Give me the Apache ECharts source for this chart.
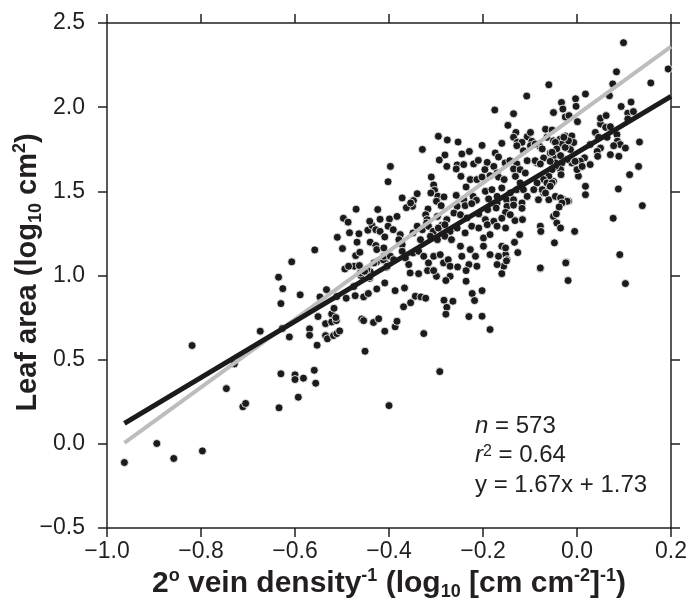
<!DOCTYPE html>
<html>
<head>
<meta charset="utf-8">
<script src="https://cdn.jsdelivr.net/npm/echarts@6/dist/echarts.min.js"></script>
<style>
  html, body { margin: 0; padding: 0; background: #fff; }
  #chart { width: 696px; height: 608px; }
</style>
</head>
<body>
<div id="chart"></div>
<script>
// values
const xRange = [-1.0, 0.2, 0.2];   // min, max, step
const yRange = [-0.5, 2.5, 0.5];

// fitted line y = 1.67x + 1.73 (black) and the grey line, end points
const blackLine = [[-0.963, 0.122], [0.2, 2.064]];
const greyLine = [[-0.963, 0.005], [0.2, 2.36]];

const statText = ['{i|n} = 573', '{i|r}{sup|2} = 0.64', 'y = 1.67x + 1.73'];

// [vein density^-1, leaf area]
const leafPoints = [
  [-0.963,-0.111],[-0.894,0.002],[-0.858,-0.087],[-0.797,-0.042],[-0.819,0.584],[-0.729,0.475],[-0.746,0.328],
  [-0.711,0.22],[-0.705,0.24],[-0.674,0.669],[-0.627,0.685],[-0.612,0.635],[-0.635,0.99],[-0.626,0.922],
  [-0.63,0.833],[-0.607,1.081],[-0.589,0.885],[-0.63,0.416],[-0.634,0.214],[-0.6,0.41],[-0.6,0.382],
  [-0.582,0.39],[-0.593,0.277],[-0.559,0.437],[-0.556,0.36],[-0.569,0.683],[-0.569,0.645],[-0.551,0.756],
  [-0.553,0.586],[-0.547,0.873],[-0.533,0.916],[-0.535,0.643],[-0.531,0.624],[-0.535,0.714],[-0.522,0.724],
  [-0.512,0.732],[-0.522,0.772],[-0.517,0.805],[-0.518,0.643],[-0.511,0.655],[-0.505,0.671],[-0.511,0.875],
  [-0.491,0.865],[-0.494,1.039],[-0.474,1.055],[-0.463,1.059],[-0.472,0.88],[-0.475,0.934],[-0.46,1.0],
  [-0.454,0.873],[-0.444,0.893],[-0.441,0.983],[-0.44,1.023],[-0.426,0.92],[-0.409,0.956],[-0.458,0.742],
  [-0.454,0.732],[-0.433,0.721],[-0.422,0.743],[-0.451,0.55],[-0.409,0.669],[-0.426,1.081],[-0.409,1.084],
  [-0.405,1.049],[-0.4,0.227],[-0.513,0.75],
  [-0.558,1.152],[-0.51,1.227],[-0.499,1.16],[-0.47,1.394],[-0.424,1.392],[-0.497,1.34],[-0.487,1.317],
  [-0.484,1.254],[-0.464,1.248],[-0.468,1.198],[-0.445,1.269],[-0.436,1.297],[-0.428,1.272],[-0.419,1.262],
  [-0.419,1.334],[-0.44,1.198],[-0.428,1.178],[-0.409,1.229],[-0.402,1.557],[-0.397,1.648],[-0.471,1.118],
  [-0.462,1.138],[-0.412,1.093],[-0.486,1.055],
  [-0.175,1.983],[-0.147,1.892],[-0.295,1.827],[-0.276,1.805],[-0.253,1.793],[-0.202,1.773],[-0.16,1.785],
  [-0.329,1.749],[-0.281,1.716],[-0.293,1.686],[-0.277,1.648],[-0.245,1.722],[-0.229,1.737],[-0.255,1.657],
  [-0.241,1.659],[-0.257,1.633],[-0.22,1.663],[-0.21,1.684],[-0.191,1.672],[-0.174,1.728],[-0.167,1.704],
  [-0.153,1.669],[-0.143,1.682],[-0.196,1.629],[-0.177,1.648],[-0.17,1.609],[-0.31,1.585],[-0.247,1.589],
  [-0.227,1.57],[-0.213,1.57],[-0.202,1.585],[-0.185,1.593],[-0.167,1.585],[-0.155,1.57],[-0.305,1.538],
  [-0.303,1.506],[-0.311,1.49],[-0.34,1.486],[-0.372,1.461],[-0.348,1.445],[-0.35,1.411],[-0.363,1.403],
  [-0.354,1.431],[-0.296,1.471],[-0.283,1.467],[-0.299,1.441],[-0.289,1.415],[-0.257,1.476],[-0.241,1.45],
  [-0.236,1.526],[-0.221,1.47],[-0.214,1.447],[-0.195,1.5],[-0.181,1.51],[-0.17,1.47],[-0.16,1.52],
  [-0.188,1.455],[-0.17,1.431],[-0.15,1.45],[-0.149,1.411],[-0.255,1.411],[-0.238,1.415],[-0.224,1.427],
  [-0.317,1.395],[-0.322,1.361],[-0.319,1.332],[-0.297,1.351],[-0.277,1.332],[-0.287,1.3],[-0.262,1.371],
  [-0.248,1.361],[-0.234,1.342],[-0.209,1.366],[-0.19,1.391],[-0.172,1.401],[-0.152,1.375],[-0.195,1.332],
  [-0.177,1.322],[-0.16,1.34],[-0.441,1.322],[-0.399,1.336],[-0.383,1.351],[-0.402,1.293],[-0.391,1.272],
  [-0.376,1.243],[-0.379,1.213],[-0.372,1.183],[-0.349,1.253],[-0.34,1.293],[-0.329,1.272],[-0.32,1.312],
  [-0.316,1.293],[-0.306,1.262],[-0.295,1.282],[-0.281,1.302],[-0.27,1.262],[-0.255,1.282],[-0.333,1.213],
  [-0.312,1.233],[-0.297,1.213],[-0.281,1.233],[-0.267,1.213],[-0.238,1.253],[-0.224,1.293],[-0.209,1.282],
  [-0.191,1.302],[-0.17,1.293],[-0.152,1.282],[-0.199,1.223],[-0.185,1.243],[-0.16,1.174],[-0.152,1.124],
  [-0.149,1.094],[-0.411,1.114],[-0.404,1.055],[-0.432,1.075],[-0.447,1.035],[-0.372,1.144],[-0.365,1.104],
  [-0.358,1.065],[-0.349,1.134],[-0.337,1.144],[-0.326,1.114],[-0.316,1.075],[-0.305,1.114],[-0.291,1.124],
  [-0.284,1.075],[-0.274,1.094],[-0.27,1.055],[-0.248,1.174],[-0.245,1.114],[-0.227,1.154],[-0.216,1.114],
  [-0.23,1.065],[-0.213,1.055],[-0.199,1.174],[-0.185,1.124],[-0.167,1.114],[-0.156,1.055],[-0.17,1.065],
  [-0.355,1.015],[-0.337,1.011],[-0.299,0.995],[-0.27,0.995],[-0.16,1.011],[-0.426,1.154],[-0.411,1.164],
  [-0.397,1.114],[-0.39,1.094],
  [-0.236,1.029],[-0.236,0.966],[-0.318,1.029],[-0.305,1.029],[-0.279,0.97],[-0.387,0.91],[-0.367,0.926],
  [-0.461,1.015],[-0.441,0.992],[-0.452,1.025],[-0.344,0.877],[-0.332,0.873],[-0.322,0.865],[-0.354,0.838],
  [-0.369,0.814],[-0.283,0.853],[-0.264,0.847],[-0.277,0.811],[-0.279,0.77],[-0.223,0.893],[-0.202,0.91],
  [-0.218,0.851],[-0.23,0.756],[-0.202,0.758],[-0.185,0.679],[-0.387,0.695],[-0.383,0.728],[-0.326,0.655],
  [-0.292,0.429],
  [0.103,0.952],[-0.019,0.97],[-0.023,1.078],[-0.078,1.041],[-0.15,1.087],[-0.254,1.051],
  [0.099,2.383],[0.084,2.21],[0.194,2.227],[0.157,2.144],[0.076,2.138],[0.069,2.068],[0.018,2.078],
  [-0.003,2.05],[-0.002,2.005],[-0.033,2.028],[-0.05,1.968],[-0.03,1.989],[-0.025,1.942],[-0.017,1.95],
  [0.001,1.914],[-0.06,2.133],[-0.107,2.066],[-0.135,1.961],[-0.13,1.85],[-0.135,1.821],[-0.127,1.791],
  [-0.106,1.824],[-0.099,1.85],[-0.067,1.869],[-0.053,1.864],[-0.064,1.821],[-0.05,1.8],[-0.036,1.81],
  [-0.025,1.829],[-0.011,1.829],[-0.007,1.79],[-0.021,1.771],[-0.032,1.781],[0.039,1.85],[0.046,1.821],
  [0.05,1.9],[0.061,1.88],[0.071,1.884],[0.05,1.934],[0.062,1.95],[0.05,1.757],[0.043,1.737],
  [0.071,1.718],[0.085,1.837],[0.086,1.798],[0.092,1.778],[0.089,1.708],[0.133,1.793],[0.131,1.648],
  [0.112,1.599],[0.088,1.514],[0.077,1.34],[0.139,1.415],[0.091,1.124],[0.094,2.004],[0.108,1.964],
  [0.115,2.03],[0.108,1.93],[0.12,1.974],[0.028,1.778],[0.016,1.699],[0.007,1.679],[0.003,1.59],
  [0.028,1.659],[0.018,1.48],[0.018,1.53],[0.0,1.629],[-0.011,1.669],[-0.021,1.689],[-0.032,1.669],
  [-0.035,1.629],[-0.046,1.648],[-0.05,1.708],[-0.057,1.728],[-0.071,1.698],[-0.085,1.669],[-0.079,1.767],
  [-0.096,1.797],[-0.034,1.599],[-0.05,1.559],[-0.064,1.53],[-0.071,1.49],[-0.06,1.45],[-0.046,1.47],
  [-0.028,1.45],[-0.018,1.441],[-0.05,1.351],[-0.043,1.312],[-0.035,1.282],[-0.078,1.293],[-0.077,1.262],
  [-0.048,1.194],[-0.024,1.075],[-0.078,1.045],[-0.005,1.262],[-0.152,1.164],
  [0.078,1.771],[0.064,1.821],[0.044,1.708],[0.103,1.757],[0.011,1.648],[-0.004,1.678],[-0.014,1.748],
  [-0.025,1.761],[-0.018,1.8],[-0.028,1.821],[-0.046,1.791],[-0.043,1.752],[-0.053,1.732],[-0.035,1.712],
  [-0.046,1.669],[-0.057,1.678],[-0.053,1.629],[-0.06,1.589],[-0.071,1.57],[-0.064,1.55],[-0.053,1.55],
  [-0.074,1.51],[-0.067,1.49],[-0.057,1.53],[-0.085,1.55],[-0.092,1.51],[-0.082,1.45],[-0.035,1.461],
  [-0.021,1.441],[-0.032,1.431],[-0.117,1.791],[-0.128,1.771],[-0.099,1.771],[-0.089,1.781],[-0.114,1.741],
  [-0.106,1.682],[-0.128,1.663],[-0.135,1.633],[-0.121,1.629],[-0.11,1.609],[-0.131,1.589],[-0.121,1.55],
  [-0.128,1.51],[-0.142,1.49],[-0.114,1.51],[-0.106,1.47],[-0.135,1.45],[-0.117,1.431],[-0.089,1.682],
  [-0.078,1.663],[-0.074,1.752],
  [-0.044,1.366],[-0.038,1.407],[-0.135,1.418],[-0.117,1.399],[-0.132,1.326],[-0.116,1.332],[-0.122,1.243],
  [-0.133,1.197],[-0.126,1.136],[-0.142,1.361]
];

const ink = '#231f20';
const font = '"Liberation Sans", Arial, Helvetica, sans-serif';

function tickFmt(v) {
  return (v < 0 ? '\u2212' : '') + Math.abs(v).toFixed(1);
}

const subSup = {
  sup: { fontFamily: font, fontWeight: 'bold', fontSize: 18, color: ink, verticalAlign: 'top', lineHeight: 18 },
  sub: { fontFamily: font, fontWeight: 'bold', fontSize: 18, color: ink, verticalAlign: 'bottom', lineHeight: 18 }
};

function frameAxis(pos, range, labels) {
  return {
    type: 'value',
    position: pos,
    min: range[0],
    max: range[1],
    interval: range[2],
    axisLine: { show: true, onZero: false, lineStyle: { color: ink, width: 1.5 } },
    axisTick: { show: true, inside: false, length: 9, lineStyle: { color: ink, width: 1.5 } },
    axisLabel: labels ? {
      show: true, formatter: tickFmt, color: ink, fontFamily: font, fontSize: 23,
      margin: pos === 'left' ? 22 : 12
    } : { show: false },
    splitLine: { show: false }
  };
}

const chart = echarts.init(document.getElementById('chart'), null, { renderer: 'canvas' });

const xBottom = frameAxis('bottom', xRange, true);
xBottom.name = '2{sup|o} vein density{sup|-1} (log{sub|10} [cm cm{sup|-2}]{sup|-1})';
xBottom.nameLocation = 'middle';
xBottom.nameGap = 39;
xBottom.nameMoveOverlap = false;
xBottom.nameTextStyle = { fontFamily: font, fontWeight: 'bold', fontSize: 30, color: ink, lineHeight: 34, rich: subSup };

const yLeft = frameAxis('left', yRange, true);
yLeft.name = 'Leaf area (log{sub|10} cm{sup|2})';
yLeft.nameLocation = 'middle';
yLeft.nameRotate = 90;
yLeft.nameGap = 62;
yLeft.nameMoveOverlap = false;
yLeft.nameTextStyle = {
  fontFamily: font, fontWeight: 'bold', fontSize: 29, color: ink, lineHeight: 34,
  padding: [0, 0, 0, 6], rich: subSup
};

chart.setOption({
  animation: false,
  backgroundColor: '#fff',
  grid: { left: 107, right: 25, top: 23, bottom: 80, containLabel: false, outerBoundsMode: 'none' },
  xAxis: [xBottom, frameAxis('top', xRange, false)],
  yAxis: [yLeft, frameAxis('right', yRange, false)],
  graphic: statText.map((t, i) => ({
    type: 'text',
    left: 475,
    top: 414 + i * 29.5,
    silent: true,
    style: {
      text: t,
      fill: ink,
      font: '24px ' + font,
      rich: {
        i: { fontFamily: font, fontSize: 24, fontStyle: 'italic', fill: ink, color: ink },
        sup: { fontFamily: font, fontSize: 16, fill: ink, color: ink, verticalAlign: 'top', lineHeight: 14 }
      }
    }
  })),
  series: [
    {
      type: 'line',
      data: greyLine,
      showSymbol: false,
      silent: true,
      lineStyle: { color: '#bdbdbd', width: 4 }
    },
    {
      type: 'line',
      data: blackLine,
      showSymbol: false,
      silent: true,
      lineStyle: { color: '#1c1a1b', width: 5 }
    },
    {
      type: 'scatter',
      data: leafPoints,
      symbolSize: 8,
      silent: true,
      itemStyle: { color: '#1c1a1b', borderColor: '#ffffff', borderWidth: 0.8, opacity: 1 }
    }
  ]
});
</script>
</body>
</html>
